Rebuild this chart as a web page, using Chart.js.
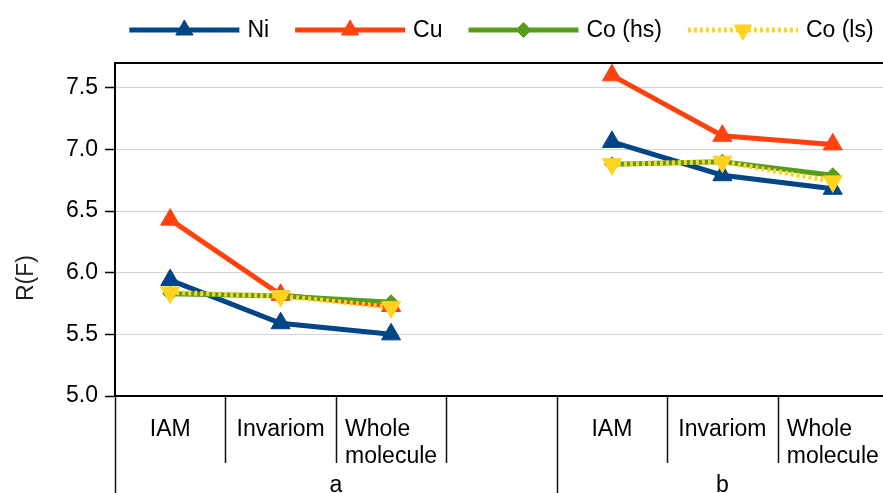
<!DOCTYPE html>
<html>
<head>
<meta charset="utf-8">
<script src="https://cdn.jsdelivr.net/npm/chart.js@4/dist/chart.umd.min.js"></script>
<style>
  html, body { margin: 0; padding: 0; background: #fff; overflow: hidden; width: 883px; height: 493px; }
  #wrap { width: 900px; height: 493px; }
</style>
</head>
<body>
<div id="wrap"><canvas id="c" width="900" height="493"></canvas></div>
<script>
// Methods per structure; the empty slot separates structure a from structure b
const categories = ['IAM', 'Invariom', 'Whole molecule', '', 'IAM', 'Invariom', 'Whole molecule'];
const categoryLines = [['IAM'], ['Invariom'], ['Whole', 'molecule'], [], ['IAM'], ['Invariom'], ['Whole', 'molecule']];
const groupLabels = ['a', 'b'];
const groupStarts = [0, 4];
const groupEnds = [4, 7];

// R(F) values per metal
const niValues = [5.94, 5.59, 5.50, null, 7.06, 6.79, 6.68];
const cuValues = [6.43, 5.82, 5.73, null, 7.60, 7.11, 7.04];
const coHsValues = [5.83, 5.81, 5.76, null, 6.88, 6.90, 6.79];
const coLsValues = [5.84, 5.81, 5.72, null, 6.88, 6.90, 6.74];

const seriesNames = ['Ni', 'Cu', 'Co (hs)', 'Co (ls)'];
const yMin = 5.0, yMax = 7.7, yStep = 0.5;

const FONT = '"Liberation Sans", Arial, sans-serif';
const FONT_SIZE = 23;

const colors = { ni: '#004586', cu: '#ff420e', coHs: '#579d1c', coLs: '#ffd320' };

function lineDataset(label, data, color, style, extra) {
  return Object.assign({
    label, data,
    borderColor: color, backgroundColor: color,
    borderWidth: 5,
    pointStyle: style, pointRadius: 11, pointHoverRadius: 11,
    pointBorderWidth: 1, pointBorderColor: color, pointBackgroundColor: color,
    tension: 0, spanGaps: false
  }, extra || {});
}

// Later series are painted on top of earlier ones
const datasets = [
  lineDataset(seriesNames[0], niValues, colors.ni, 'triangle', { order: 4 }),
  lineDataset(seriesNames[1], cuValues, colors.cu, 'triangle', { order: 3 }),
  lineDataset(seriesNames[2], coHsValues, colors.coHs, 'rectRot', { order: 2, pointRadius: 7.5, pointHoverRadius: 7.5 }),
  lineDataset(seriesNames[3], coLsValues, colors.coLs, 'triangle', { order: 1, pointRotation: 180, borderDash: [3, 3] })
];

const decorations = {
  id: 'decorations',
  beforeDraw(chart) {
    const ctx = chart.ctx;
    ctx.save();
    ctx.fillStyle = '#fff';
    ctx.fillRect(0, 0, chart.width, chart.height);
    ctx.restore();
  },
  afterDraw(chart) {
    const ctx = chart.ctx;
    const area = chart.chartArea;
    const x = chart.scales.x;
    const n = categories.length;
    const w = (area.right - area.left) / n;
    ctx.save();

    // frame top
    ctx.strokeStyle = '#000';
    ctx.lineWidth = 2;
    ctx.beginPath();
    ctx.moveTo(area.left, area.top);
    ctx.lineTo(area.right, area.top);
    ctx.stroke();

    // category dividers under the axis
    ctx.lineWidth = 1.5;
    ctx.strokeStyle = '#111';
    for (let i = 0; i <= n; i++) {
      const bx = Math.round(x.getPixelForValue(i) - w / 2) + 0.5;
      const isGroupEdge = groupStarts.includes(i) || groupEnds.includes(i);
      ctx.beginPath();
      ctx.moveTo(bx, area.bottom);
      ctx.lineTo(bx, isGroupEdge ? chart.height : area.bottom + 67);
      ctx.stroke();
    }

    // category labels: block centred, lines left-aligned
    ctx.font = FONT_SIZE + 'px ' + FONT;
    ctx.fillStyle = '#000';
    ctx.textBaseline = 'alphabetic';
    ctx.textAlign = 'left';
    categoryLines.forEach((lines, i) => {
      if (!lines.length) return;
      const cx = x.getPixelForValue(i);
      const bw = Math.max(...lines.map(l => ctx.measureText(l).width));
      const sx = cx - bw / 2;
      lines.forEach((l, k) => {
        ctx.fillText(l, sx, area.bottom + 40 + k * 27);
      });
    });

    // group labels
    ctx.textAlign = 'center';
    groupLabels.forEach((g, j) => {
      const l = x.getPixelForValue(groupStarts[j]) - w / 2;
      const r = x.getPixelForValue(groupEnds[j] - 1) + w / 2;
      ctx.fillText(g, (l + r) / 2, area.bottom + 96);
    });

    // y axis title
    ctx.save();
    ctx.translate(33, (area.top + chart.height) / 2);
    ctx.rotate(-Math.PI / 2);
    ctx.textAlign = 'center';
    ctx.textBaseline = 'alphabetic';
    ctx.fillStyle = '#222';
    ctx.fillText('R(F)', 0, 0);
    ctx.restore();

    // legend: line sample with marker, then name
    const lineLen = 110, textGap = 8, entryGap = 26;
    const widths = datasets.map(d => lineLen + textGap + ctx.measureText(d.label).width);
    const total = widths.reduce((a, b) => a + b, 0) + entryGap * (datasets.length - 1);
    let lx = (area.left + area.right) / 2 - total / 2;
    const ly = 30;
    datasets.forEach((d, i) => {
      ctx.save();
      ctx.strokeStyle = d.borderColor;
      ctx.lineWidth = 5;
      if (d.borderDash) ctx.setLineDash(d.borderDash);
      ctx.beginPath();
      ctx.moveTo(lx, ly);
      ctx.lineTo(lx + lineLen, ly);
      ctx.stroke();
      ctx.setLineDash([]);
      ctx.fillStyle = d.pointBackgroundColor;
      ctx.strokeStyle = d.pointBorderColor;
      ctx.lineWidth = 1;
      Chart.helpers.drawPoint(ctx, {
        pointStyle: d.pointStyle,
        rotation: d.pointRotation || 0,
        radius: d.pointStyle === 'rectRot' ? 7.5 : 10,
        borderWidth: 1
      }, lx + lineLen / 2, ly);
      ctx.fillStyle = '#000';
      ctx.textAlign = 'left';
      ctx.textBaseline = 'middle';
      ctx.fillText(d.label, lx + lineLen + textGap, ly + 1);
      ctx.restore();
      lx += widths[i] + entryGap;
    });

    ctx.restore();
  }
};

new Chart(document.getElementById('c'), {
  type: 'line',
  data: { labels: categories, datasets },
  options: {
    responsive: false,
    animation: false,
    events: [],
    layout: { padding: { top: 63, right: 9, left: 0, bottom: 0 } },
    plugins: { legend: { display: false }, tooltip: { enabled: false }, title: { display: false } },
    scales: {
      x: {
        type: 'category',
        offset: true,
        grid: { display: false },
        border: { display: true, color: '#000', width: 2 },
        ticks: { display: false },
        afterFit(scale) { scale.height = 97; }
      },
      y: {
        min: yMin, max: yMax,
        grid: { color: '#d4d4d4', lineWidth: 1, tickColor: '#000', tickLength: 10, tickWidth: 1.5 },
        border: { display: true, color: '#000', width: 2 },
        ticks: {
          stepSize: yStep,
          includeBounds: false,
          padding: 7,
          color: '#000',
          font: { family: FONT, size: FONT_SIZE },
          callback: v => Number(v).toFixed(1)
        },
        afterFit(scale) { scale.width = 115; }
      }
    }
  },
  plugins: [decorations]
});
</script>
</body>
</html>
